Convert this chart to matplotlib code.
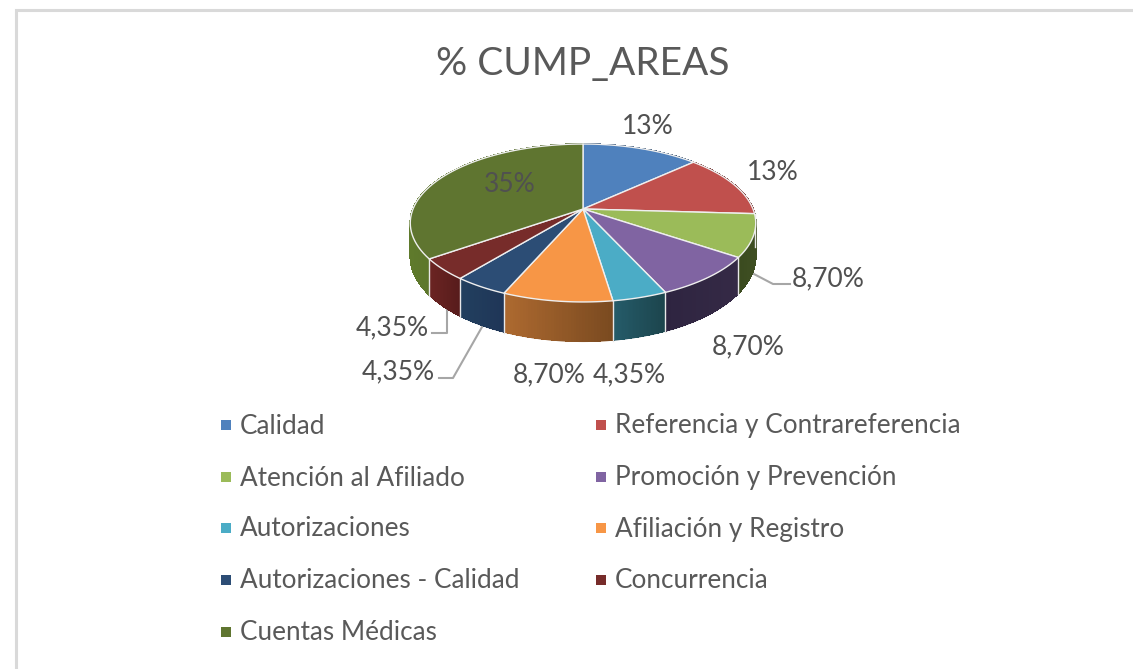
import numpy as np
import matplotlib
matplotlib.use("Agg")
import matplotlib.pyplot as plt
from matplotlib.collections import PolyCollection
from matplotlib.colors import to_rgb

title = "% CUMP_AREAS"
categories = ["Calidad", "Referencia y Contrareferencia", "Atención al Afiliado",
              "Promoción y Prevención", "Autorizaciones", "Afiliación y Registro",
              "Autorizaciones - Calidad", "Concurrencia", "Cuentas Médicas"]
values = [13, 13, 8.70, 8.70, 4.35, 8.70, 4.35, 4.35, 35]
value_labels = ["13%", "13%", "8,70%", "8,70%", "4,35%", "8,70%", "4,35%", "4,35%", "35%"]

top_colors = ["#4F81BD", "#C0504D", "#9BBB59", "#8064A2", "#4BACC6",
              "#F79646", "#2C4D75", "#772C2A", "#5F7530"]
# wall shading, left end / right end of each slice as seen on screen
wall_left = ["#2F4D71", "#733230", "#3A4A1F", "#2E2440", "#255C6A",
             "#AE6A30", "#22405F", "#6B2422", "#5F7A2C"]
wall_right = ["#2F4D71", "#733230", "#3F4F22", "#352A46", "#1C444C",
              "#7A4A20", "#1F3557", "#571C1C", "#4A5E25"]

label_pos = [(648, 126), (773, 172), (828, 279), (748, 347), (629, 375),
             (549, 375), (398, 372), (392, 328), (510, 185)]
leaders = [[(752, 273), (773, 284), (790, 284)],
           [(482, 327), (453, 378), (439, 378)],
           [(447, 307), (447, 333), (432, 333)]]
legend_cols = [220, 595]
legend_rows = [426, 478, 529, 581, 633]

cx, cy = 583, 209
a, b, k = 170, 76.5, 0.177
depth = 33


def project(theta):
    u, v = np.sin(theta), np.cos(theta)
    w = 1 + k * v
    return cx + a * u / w, cy - b * v / w, depth / w


plt.rcParams["font.family"] = ["Lato", "DejaVu Sans"]
fig = plt.figure(figsize=(11.33, 6.69), dpi=100)
ax = fig.add_axes([0, 0, 1, 1])
ax.set_xlim(0, 1133)
ax.set_ylim(669, 0)
ax.axis("off")

# window frame
ax.plot([16, 16, 1133], [669, 10, 10], color="#D9D9D9", lw=2.2, solid_joinstyle="miter")

edges = np.radians(np.cumsum([0] + values) / sum(values) * 360)

# side walls first, the top covers what faces away
for i in range(len(values)):
    t = np.linspace(edges[i], edges[i + 1], 40)
    x, y, d = project(t)
    mid = tuple((np.array(to_rgb(wall_left[i])) + np.array(to_rgb(wall_right[i]))) / 2)
    # smooth outline under the strips
    ax.fill(np.r_[x, x[::-1]], np.r_[y, (y + d)[::-1]], color=mid, lw=0, zorder=2)
    quads, cols = [], []
    for j in range(len(t) - 1):
        quads.append([(x[j], y[j]), (x[j + 1], y[j + 1]),
                      (x[j + 1], y[j + 1] + d[j + 1] - 1), (x[j], y[j] + d[j] - 1)])
        f = (x[j] - x.min()) / max(x.max() - x.min(), 1)
        cols.append(tuple(np.array(to_rgb(wall_left[i])) * (1 - f) + np.array(to_rgb(wall_right[i])) * f))
    ax.add_collection(PolyCollection(quads, facecolors=cols, edgecolors=cols, linewidths=0.6,
                                     antialiaseds=False, zorder=2.5))
    ax.plot([x[0], x[0]], [y[0], y[0] + d[0]], color="#E8E8E8", lw=1.0, zorder=3)

# pie top
for i in range(len(values)):
    t = np.linspace(edges[i], edges[i + 1], 60)
    x, y, d = project(t)
    ax.fill(np.r_[cx, x], np.r_[cy, y], color=top_colors[i], ec="#EFEFEF", lw=1.0, zorder=4)

for pts in leaders:
    ax.plot(*zip(*pts), color="#A6A6A6", lw=1.5, zorder=1)

for lab, (lx, ly) in zip(value_labels, label_pos):
    ax.text(lx, ly, lab, color="#505050", fontsize=19, ha="center", va="center", zorder=6)

ax.text(583, 64, title, color="#595959", fontsize=28, ha="center", va="center")

for i, name in enumerate(categories):
    lx = legend_cols[i % 2]
    ly = legend_rows[i // 2]
    ax.plot([lx + 5.5], [ly - 1], marker="s", ms=7.6, mew=0, color=top_colors[i], ls="none")
    ax.text(lx + 20, ly, name, color="#595959", fontsize=18.8, ha="left", va="center")

fig.savefig("out.png", dpi=100, facecolor="white")
